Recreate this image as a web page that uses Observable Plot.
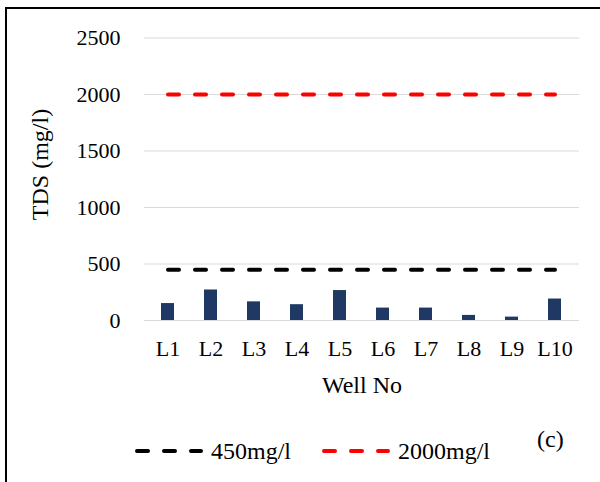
<!DOCTYPE html>
<html>
<head>
<meta charset="utf-8">
<script src="https://cdn.jsdelivr.net/npm/d3@7"></script>
<script src="https://cdn.jsdelivr.net/npm/@observablehq/plot@0.6"></script>
<style>
  html, body { margin: 0; padding: 0; background: #fff; }
  #page { position: relative; width: 600px; height: 482px; overflow: hidden;
          font-family: "Liberation Serif", "Times New Roman", serif; color: #000; }
  #chart { position: absolute; left: 0; top: 0; }
  #frame { position: absolute; left: 5px; top: 7px; right: -10px; bottom: -10px;
           border-top: 2px solid #000; border-left: 2px solid #000; pointer-events: none; }
  .legend-item { position: absolute; top: 439px; display: flex; align-items: flex-start;
                 font-size: 24px; line-height: 24px; white-space: nowrap; }
  .legend-item svg { display: block; margin-right: 6px; }
  #panel { position: absolute; left: 537px; top: 427px; font-size: 24px; line-height: 24px; }
</style>
</head>
<body>
<div id="page">
  <div id="chart"></div>
  <div id="frame"></div>
  <div id="legend"></div>
  <div id="panel">(c)</div>
</div>
<script>
// Total dissolved solids per well
const wells = ["L1", "L2", "L3", "L4", "L5", "L6", "L7", "L8", "L9", "L10"];
const tds = [150, 270, 165, 140, 265, 110, 110, 45, 30, 190];

// Reference limits
const limits = [450, 2000];
const limitLabels = ["450mg/l", "2000mg/l"];
const limitColors = ["#000000", "#ff0000"];

const yTicks = [0, 500, 1000, 1500, 2000, 2500];
const yTitle = "TDS (mg/l)";
const xTitle = "Well No";

const serif = "Liberation Serif, Times New Roman, serif";

const rows = wells.map((w, i) => ({well: w, tds: tds[i]}));
const limitRows = limits.map(v => wells.map(w => ({well: w, value: v})));

const dash = {strokeWidth: 4, strokeDasharray: "11,16", strokeLinecap: "round"};

const chart = Plot.plot({
  width: 600,
  height: 410,
  marginLeft: 144,
  marginRight: 21,
  marginTop: 37.5,
  marginBottom: 90,
  style: {fontFamily: serif, fontSize: "22px", color: "#000", background: "transparent", overflow: "visible"},
  x: {domain: wells, paddingInner: 0.69, paddingOuter: 0.345, label: null, tickSize: 0, tickPadding: 20},
  y: {domain: [0, 2500], ticks: yTicks, tickFormat: d3.format("d"), label: null, tickSize: 0, tickPadding: 24},
  marks: [
    Plot.ruleY(yTicks, {stroke: "#d9d9d9", strokeWidth: 1.2}),
    Plot.barY(rows, {x: "well", y: "tds", fill: "#203864"}),
    ...limitRows.map((r, k) => Plot.line(r, {x: "well", y: "value", stroke: limitColors[k], ...dash})),
    Plot.text([yTitle], {text: d => d, fontFamily: serif, fontSize: 24, frameAnchor: "left",
      textAnchor: "middle", lineAnchor: "middle", dx: -104.5, dy: -14.75, rotate: -90}),
    Plot.text([xTitle], {text: d => d, fontFamily: serif, fontSize: 24, frameAnchor: "bottom",
      textAnchor: "middle", lineAnchor: "middle", dy: 65})
  ]
});
document.getElementById("chart").appendChild(chart);

// Legend for the limit lines
const legend = document.getElementById("legend");
const legendLeft = [133, 320];
limits.forEach((v, k) => {
  const item = document.createElement("div");
  item.className = "legend-item";
  item.style.left = legendLeft[k] + "px";
  const svg = d3.create("svg").attr("width", 72).attr("height", 24);
  svg.append("line")
    .attr("x1", 4).attr("x2", 68).attr("y1", 12).attr("y2", 12)
    .attr("stroke", limitColors[k])
    .attr("stroke-width", dash.strokeWidth)
    .attr("stroke-dasharray", dash.strokeDasharray)
    .attr("stroke-linecap", dash.strokeLinecap);
  item.appendChild(svg.node());
  const label = document.createElement("span");
  label.textContent = limitLabels[k];
  item.appendChild(label);
  legend.appendChild(item);
});
</script>
</body>
</html>
